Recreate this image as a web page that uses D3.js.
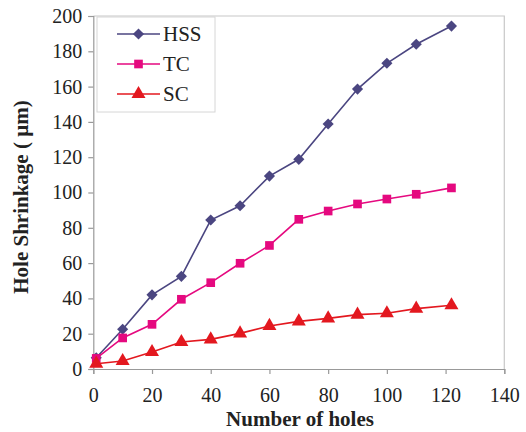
<!DOCTYPE html>
<html>
<head>
<meta charset="utf-8">
<script src="https://cdn.jsdelivr.net/npm/d3@7/dist/d3.min.js"></script>
<style>
body { margin: 0; background: #fff; }
text { font-family: "Liberation Serif", "Times New Roman", serif; }
</style>
</head>
<body>
<svg id="chart" width="526" height="432"></svg>
<script>
// holes drilled (x) and hole shrinkage in micrometres for each tool
var holes = [1, 10, 20, 30, 40, 50, 60, 70, 80, 90, 100, 110, 122];
var hss = [6.4, 22.5, 42, 52.5, 84.4, 92.5, 109.3, 118.8, 138.8, 158.6, 173.2, 184, 194.3];
var tc = [6, 17.6, 25.3, 39.5, 48.9, 59.9, 70, 84.8, 89.5, 93.5, 96.3, 99, 102.6];
var sc = [3, 4.5, 9.6, 15.3, 16.8, 20.2, 24.4, 27, 28.7, 30.8, 31.6, 34.2, 36.1];
var xTicks = [0, 20, 40, 60, 80, 100, 120, 140];
var yTicks = [0, 20, 40, 60, 80, 100, 120, 140, 160, 180, 200];

// diamond = square turned 45 degrees
var series = [
    {name: "HSS", values: hss, color: "#4b4681", shape: d3.symbolSquare, size: 62, rot: 45},
    {name: "TC", values: tc, color: "#e5097f", shape: d3.symbolSquare, size: 75, rot: 0},
    {name: "SC", values: sc, color: "#e3181f", shape: d3.symbolTriangle, size: 85, rot: 0}
];

var svg = d3.select("#chart");
var plotL = 93.3, plotR = 504.3, plotT = 16, plotB = 369;

var x = d3.scaleLinear().domain([0, 140]).range([plotL, plotR]);
var y = d3.scaleLinear().domain([0, 200]).range([plotB, plotT]);

// frame (top and right edges)
svg.append("path")
    .attr("d", "M" + plotL + "," + plotT + "H" + plotR + "V" + plotB)
    .style("fill", "none")
    .style("stroke", "#c8c8c8")
    .style("stroke-width", 1.2);

var xAxis = svg.append("g")
    .attr("transform", "translate(0," + plotB + ")")
    .call(d3.axisBottom(x).tickValues(xTicks).tickSize(5).tickPadding(14));
var yAxis = svg.append("g")
    .attr("transform", "translate(" + plotL + ",0)")
    .call(d3.axisLeft(y).tickValues(yTicks).tickSize(5).tickPadding(6));

[xAxis, yAxis].forEach(function (a) {
    a.select(".domain").style("stroke", "#999").style("stroke-width", 1.2);
    a.selectAll(".tick line").style("stroke", "#999").style("stroke-width", 1.2);
    a.selectAll(".tick text")
        .style("font-family", "'Liberation Serif', serif")
        .style("font-size", "20px")
        .style("fill", "#222");
});

var line = d3.line()
    .x(function (d, i) { return x(holes[i]); })
    .y(function (d) { return y(d); });

series.forEach(function (s) {
    svg.append("path")
        .attr("d", line(s.values))
        .style("fill", "none")
        .style("stroke", s.color)
        .style("stroke-width", 1.6);
    svg.selectAll(null)
        .data(s.values)
        .enter().append("path")
        .attr("d", d3.symbol().type(s.shape).size(s.size))
        .attr("transform", function (d, i) {
            return "translate(" + x(holes[i]) + "," + y(d) + ") rotate(" + s.rot + ")";
        })
        .style("fill", s.color);
});

// legend
var legend = svg.append("g");
legend.append("rect")
    .attr("x", 97).attr("y", 17)
    .attr("width", 118).attr("height", 95)
    .style("fill", "#fff")
    .style("stroke", "#d6d6d6")
    .style("stroke-width", 1);
series.forEach(function (s, i) {
    var ly = 34 + i * 30;
    legend.append("line")
        .attr("x1", 117).attr("x2", 160)
        .attr("y1", ly).attr("y2", ly)
        .style("stroke", s.color)
        .style("stroke-width", 1.6);
    legend.append("path")
        .attr("d", d3.symbol().type(s.shape).size(s.size))
        .attr("transform", "translate(138.5," + ly + ") rotate(" + s.rot + ")")
        .style("fill", s.color);
    legend.append("text")
        .attr("x", 163).attr("y", ly)
        .attr("dy", "0.35em")
        .style("font-size", "21px")
        .style("fill", "#222")
        .text(s.name);
});

// axis titles
svg.append("text")
    .attr("x", 300).attr("y", 426)
    .attr("text-anchor", "middle")
    .style("font-size", "21px")
    .style("font-weight", "bold")
    .style("fill", "#222")
    .text("Number of holes");

svg.append("text")
    .attr("transform", "translate(28,197) rotate(-90)")
    .attr("text-anchor", "middle")
    .style("font-size", "21px")
    .style("font-weight", "bold")
    .style("fill", "#222")
    .text("Hole Shrinkage ( µm)");
</script>
</body>
</html>
